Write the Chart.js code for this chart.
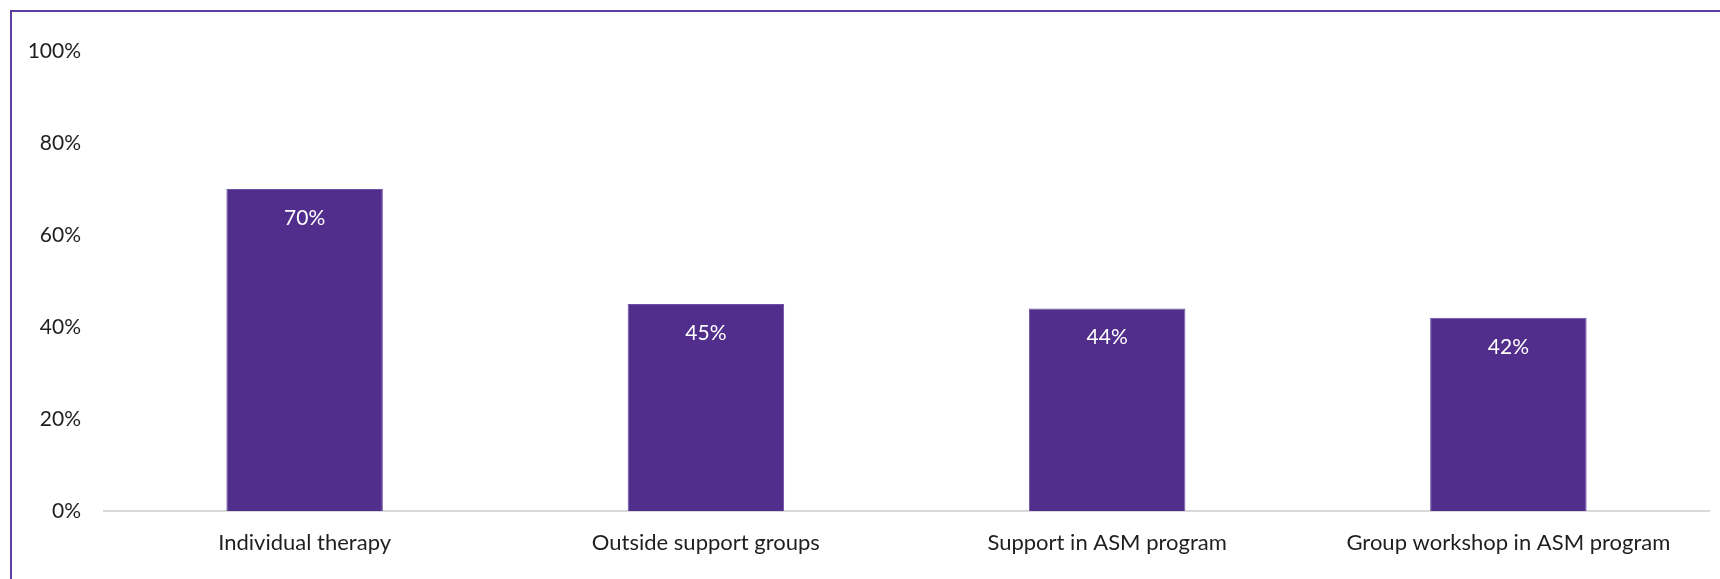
<!DOCTYPE html>
<html>
<head>
<meta charset="utf-8">
<script src="https://cdn.jsdelivr.net/npm/chart.js@4/dist/chart.umd.min.js"></script>
<style>
  html, body { margin: 0; padding: 0; background: #ffffff; }
  #wrap { position: relative; width: 1720px; height: 579px; overflow: hidden; }
  #frame { position: absolute; left: 10px; top: 10px; right: -10px; bottom: -10px;
           border-left: 2px solid #5b3ea0; border-top: 2px solid #5b3ea0; }
  canvas { position: absolute; left: 0; top: 0; }
</style>
</head>
<body>
<div id="wrap">
  <div id="frame"></div>
  <canvas id="chart" width="1720" height="579"></canvas>
</div>
<script>
// Share of respondents using each kind of support
const categories = ['Individual therapy', 'Outside support groups', 'Support in ASM program', 'Group workshop in ASM program'];
const shares = [70, 45, 44, 42];
const yTicks = [0, 20, 40, 60, 80, 100];

const FONT = 'Lato, "Open Sans", sans-serif';

// Writes each bar's value in white just below its top edge
const barValueLabels = {
  id: 'barValueLabels',
  afterDatasetsDraw(chart) {
    const ctx = chart.ctx;
    const meta = chart.getDatasetMeta(0);
    ctx.save();
    ctx.fillStyle = '#ffffff';
    ctx.font = '21px ' + FONT;
    ctx.textAlign = 'center';
    ctx.textBaseline = 'middle';
    meta.data.forEach((bar, i) => {
      ctx.fillText(shares[i] + '%', bar.x, bar.y + 29);
    });
    ctx.restore();
  }
};

new Chart(document.getElementById('chart'), {
  type: 'bar',
  data: {
    labels: categories,
    datasets: [{
      data: shares,
      backgroundColor: '#522e8c',
      borderColor: '#6d50a8',
      borderWidth: 1,
      barPercentage: 0.39,
      categoryPercentage: 1.0
    }]
  },
  options: {
    responsive: false,
    animation: false,
    layout: { padding: { top: 51, right: 11, left: 0, bottom: 0 } },
    plugins: { legend: { display: false }, tooltip: { enabled: false } },
    scales: {
      x: {
        grid: { display: false, drawTicks: false },
        border: { display: true, color: '#d9d9d9', width: 2 },
        ticks: { color: '#1f1f1f', font: { family: FONT, size: 22 }, padding: 19, maxRotation: 0 },
        afterFit(scale) { scale.height = 68; }
      },
      y: {
        min: 0,
        max: 100,
        afterBuildTicks(scale) { scale.ticks = yTicks.map(v => ({ value: v })); },
        grid: { display: false, drawTicks: false },
        border: { display: false },
        ticks: {
          color: '#1f1f1f',
          font: { family: FONT, size: 21 },
          padding: 23,
          callback: v => v + '%'
        },
        afterFit(scale) { scale.width = 104; }
      }
    }
  },
  plugins: [barValueLabels]
});
</script>
</body>
</html>
